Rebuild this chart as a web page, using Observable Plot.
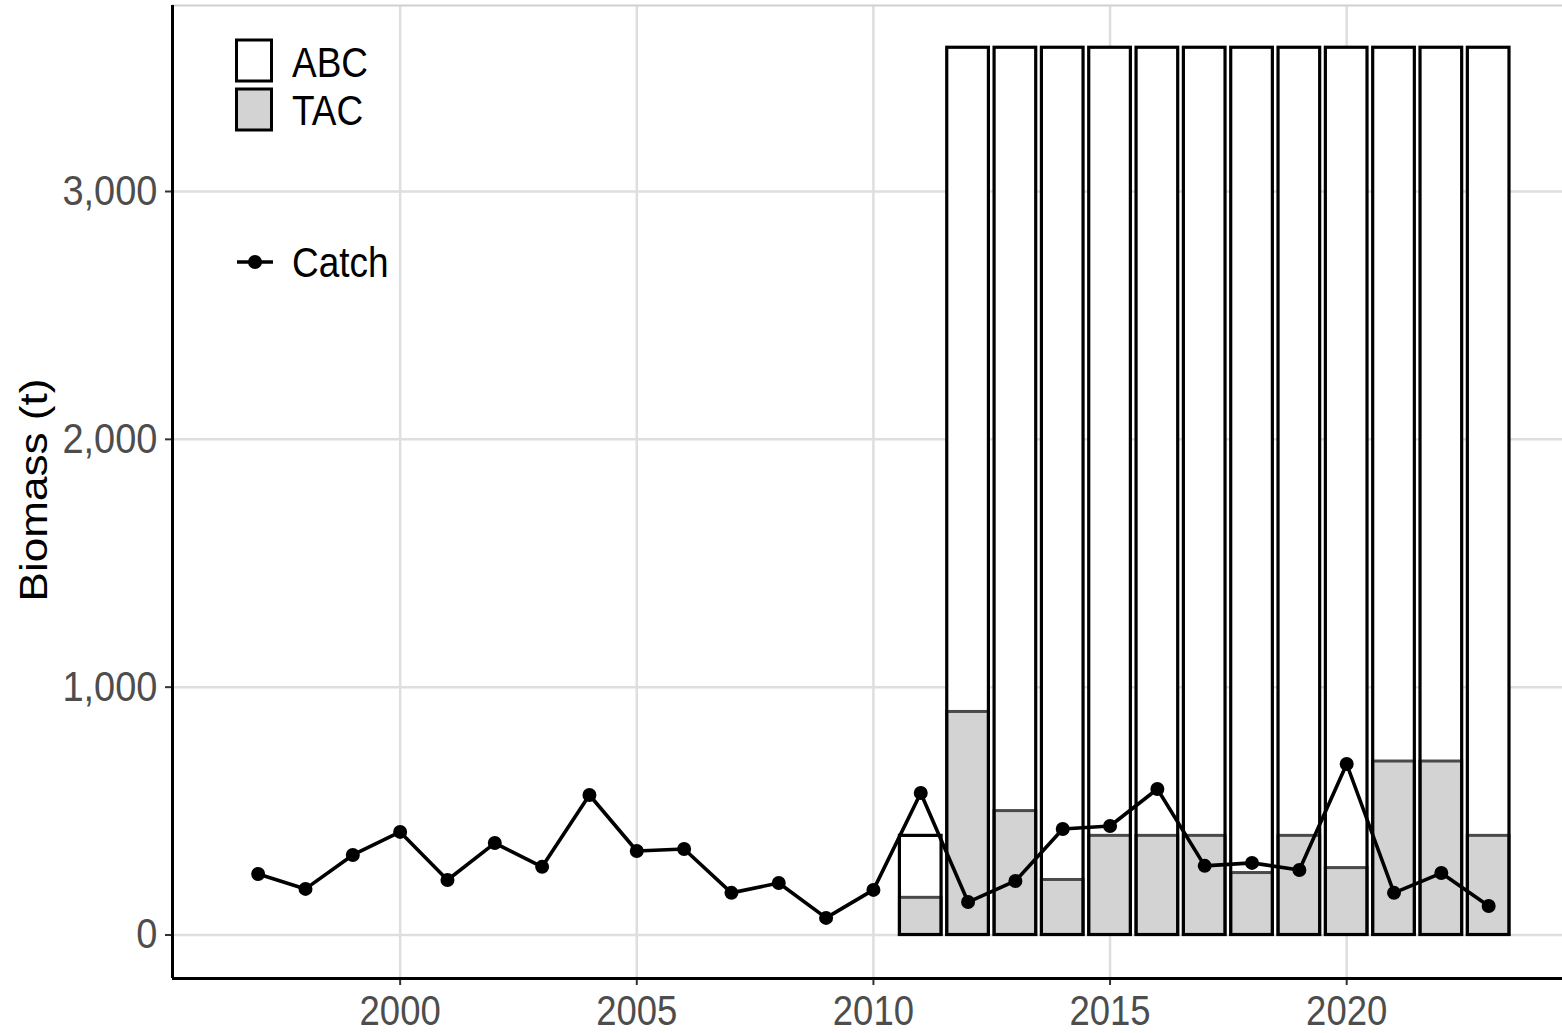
<!DOCTYPE html>
<html>
<head>
<meta charset="utf-8">
<script src="https://cdn.jsdelivr.net/npm/d3@7"></script>
<script src="https://cdn.jsdelivr.net/npm/@observablehq/plot@0.6"></script>
<style>
  body { margin: 0; background: #fff; }
  #wrap { position: relative; width: 1562px; height: 1033px; overflow: hidden; font-family: "Liberation Sans", Arial, sans-serif; }
  #legend { position: absolute; left: 0; top: 0; pointer-events: none; }
</style>
</head>
<body>
<div id="wrap"></div>
<script>
// ---- data ----
const catchYears = [1997,1998,1999,2000,2001,2002,2003,2004,2005,2006,2007,2008,2009,2010,2011,2012,2013,2014,2015,2016,2017,2018,2019,2020,2021,2022,2023];
const catchValues = [246,186,323,416,222,371,275,565,339,347,170,210,69,182,573,133,218,428,440,589,279,291,262,690,170,250,117];
const specYears = [2011,2012,2013,2014,2015,2016,2017,2018,2019,2020,2021,2022,2023];
const abcValues = [400,3580,3580,3580,3580,3580,3580,3580,3580,3580,3580,3580,3580];
const tacValues = [150,900,500,222,400,400,400,250,400,270,700,700,400];
const xTicks = [2000,2005,2010,2015,2020];
const yTicks = [0,1000,2000,3000];
const legendItems = ["ABC","TAC","Catch"];
const yTitle = "Biomass (t)";

const catchData = catchYears.map((y,i) => ({year: y, value: catchValues[i]}));
const specData = specYears.map((y,i) => ({year: y, abc: abcValues[i], tac: tacValues[i]}));

const halfW = 0.44;
const xDomain = [1995.19, 2024.56];
const yDomain = [-175.5, 3750.5];
const FONT = '"Liberation Sans", Arial, sans-serif';

const chart = Plot.plot({
  width: 1562,
  height: 1033,
  marginLeft: 172,
  marginRight: 0,
  marginTop: 5,
  marginBottom: 55,
  style: {fontFamily: FONT, background: "#fff"},
  x: {domain: xDomain, axis: null},
  y: {domain: yDomain, axis: null},
  marks: [
    Plot.gridX(xTicks, {stroke: "#dedede", strokeWidth: 2.5, strokeOpacity: 1}),
    Plot.gridY(yTicks, {stroke: "#dedede", strokeWidth: 2.5, strokeOpacity: 1}),
    Plot.ruleY([yDomain[1]], {stroke: "#d0d0d0", strokeWidth: 2}),
    // ABC fill
    Plot.rectY(specData, {x1: d => d.year - halfW, x2: d => d.year + halfW, y1: 0, y2: "abc", fill: "white"}),
    // TAC
    Plot.rectY(specData, {x1: d => d.year - halfW, x2: d => d.year + halfW, y1: 0, y2: "tac", fill: "#d3d3d3", stroke: "#4a4a4a", strokeWidth: 3}),
    // ABC outline
    Plot.rectY(specData, {x1: d => d.year - halfW, x2: d => d.year + halfW, y1: 0, y2: "abc", fill: "none", stroke: "black", strokeWidth: 3.2}),
    // catch
    Plot.line(catchData, {x: "year", y: "value", stroke: "black", strokeWidth: 3.6}),
    Plot.dot(catchData, {x: "year", y: "value", fill: "black", r: 7}),
    // axes
    Plot.axisY(yTicks, {anchor: "left", tickSize: 7, tickPadding: 8, fontSize: 38, tickFormat: d3.format(","), color: "#4d4d4d", stroke: "#333", strokeWidth: 2, label: null, className: "stretch-y"}),
    Plot.axisX(xTicks, {anchor: "bottom", tickSize: 7, tickPadding: 11, fontSize: 36.5, tickFormat: d => String(d), color: "#4d4d4d", stroke: "#333", strokeWidth: 2, label: null, className: "stretch-x"}),
    Plot.ruleX([xDomain[0]], {stroke: "black", strokeWidth: 3}),
    Plot.ruleY([yDomain[0]], {stroke: "black", strokeWidth: 3}),
    Plot.text([yTitle], {frameAnchor: "left", dx: -138, dy: -2, rotate: -90, textAnchor: "middle", fontSize: 38, fill: "black", className: "ytitle"})
  ]
});

const wrap = document.getElementById("wrap");
wrap.appendChild(chart);

// legend overlay
const ns = "http://www.w3.org/2000/svg";
const leg = document.createElementNS(ns, "svg");
leg.setAttribute("id", "legend");
leg.setAttribute("width", 450);
leg.setAttribute("height", 300);
const mk = (tag, attrs, text) => {
  const e = document.createElementNS(ns, tag);
  for (const k in attrs) e.setAttribute(k, attrs[k]);
  if (text) e.textContent = text;
  leg.appendChild(e);
  return e;
};
mk("rect", {x: 236.5, y: 40, width: 35, height: 41, fill: "white", stroke: "black", "stroke-width": 3});
mk("rect", {x: 236.5, y: 89, width: 35, height: 41, fill: "#d3d3d3", stroke: "black", "stroke-width": 3});
mk("line", {x1: 237, x2: 273, y1: 262, y2: 262, stroke: "black", "stroke-width": 3.5});
mk("circle", {cx: 255, cy: 262, r: 7, fill: "black"});
const tAttrs = {x: 292, "font-size": 37, "font-family": FONT, fill: "black", "dominant-baseline": "central", class: "leg-text"};
mk("text", {...tAttrs, y: 62}, legendItems[0]);
mk("text", {...tAttrs, y: 110}, legendItems[1]);
mk("text", {...tAttrs, y: 262}, legendItems[2]);
wrap.appendChild(leg);

// vertical stretch of glyphs (reference text is taller than its width suggests)
function stretch(el, sx, sy) {
  const b = el.getBBox();
  const cx = b.x + b.width / 2, cy = b.y + b.height / 2;
  const t = el.getAttribute("transform") || "";
  el.setAttribute("transform", `${t} translate(${cx},${cy}) scale(${sx},${sy}) translate(${-cx},${-cy})`);
}
chart.querySelectorAll(".stretch-y text").forEach(el => stretch(el, 1, 1.1));
chart.querySelectorAll(".stretch-x text").forEach(el => stretch(el, 1, 1.18));
chart.querySelectorAll(".ytitle text").forEach(el => stretch(el, 1.16, 1));
leg.querySelectorAll(".leg-text").forEach(el => stretch(el, 1, 1.15));
</script>
</body>
</html>
